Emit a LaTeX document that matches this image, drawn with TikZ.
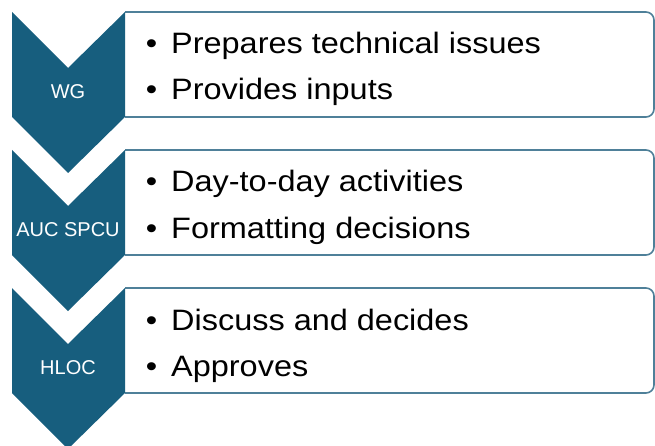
\documentclass[tikz,border=0pt]{standalone}
\usepackage{fontspec}
\setmainfont{Liberation Sans}
\newfontfamily\bulletfont[FakeStretch=1.1]{Liberation Sans}
\definecolor{chev}{HTML}{175E7E}
\definecolor{boxline}{HTML}{4F8099}
\begin{document}
\begin{tikzpicture}[x=1pt,y=-1pt,
  chevshape/.style={fill=chev},
  boxshape/.style={draw=boxline,line width=1.6pt,fill=white,rounded corners=8pt},
  lab/.style={text=white,inner sep=0pt,font=\fontsize{20}{24}\selectfont},
  bul/.style={inner sep=0pt,anchor=base,font=\bulletfont\fontsize{29.5}{34}\selectfont},
  item/.style={inner sep=0pt,anchor=base west,font=\bulletfont\fontsize{29.5}{34}\selectfont}]
\useasboundingbox (0,0) rectangle (655,446);
\foreach \y/\lbl/\name/\ta/\tb in {12/WG/wg/Prepares technical issues/Provides inputs,
  150/AUC SPCU/auc/Day-to-day activities/Formatting decisions,
  288/HLOC/hloc/Discuss and decides/Approves}{
  \begin{scope}
    \clip (125,\y-5) rectangle (660,\y+110);
    \draw[boxshape] (100,\y) rectangle (654,\y+105);
  \end{scope}
  \fill[chevshape] (12,\y) -- (68,\y+56) -- (125,\y) -- (125,\y+105) -- (68,\y+161) -- (12,\y+105) -- cycle;
  \node[lab] (\name) at (68,\y+80) {\lbl};
  \node[bul] (\name-b1) at (151.5,\y+42) {•};
  \node[item] (\name-t1) at (171,\y+42) {\ta};
  \node[bul] (\name-b2) at (151.5,\y+88) {•};
  \node[item] (\name-t2) at (171,\y+88) {\tb};
}
\end{tikzpicture}
\end{document}
